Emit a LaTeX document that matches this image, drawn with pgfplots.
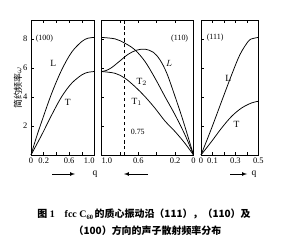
\documentclass[border=0pt]{standalone}
\usepackage{fontspec}
\setmainfont{Liberation Serif}
\newfontfamily\cjk{Noto Sans CJK SC}
\usepackage{pgfplots}
\pgfplotsset{compat=1.18}
\begin{document}
\begin{tikzpicture}
\path[use as bounding box] (0bp,0bp) rectangle (296bp,244bp);
\tikzset{lab/.style={font=\fontsize{9.5}{10}\selectfont}}
\pgfplotsset{
  panel/.style={
    scale only axis, anchor=south west, height=135bp,
    ymin=0, ymax=9.3, ytick={2,4,6,8}, ytick pos=left, xtick pos=both,
    tick align=inside, major tick length=2.5bp,
    axis line style={line width=0.8bp},
    tick style={line width=0.6bp, black},
    ticklabel style={font=\fontsize{8.5}{9}\selectfont},
    xticklabel style={yshift=1bp},
    /pgf/number format/assume math mode=true,
    clip=false,
    cycle list={{black,mark=none}},
    every axis plot post/.append style={line width=0.75bp, smooth, tension=0.55},
  },
}
% Panel 1 (100)
\begin{axis}[panel, at={(31bp,89bp)}, width=63.5bp,
  xmin=0, xmax=1, xtick={0,0.2,0.4,0.6,0.8,1.0},
  xticklabels={0,0.2,,0.6,,\makebox[0pt][r]{1.0}}]
\addplot coordinates {(0,0) (0.08,1.15) (0.168,2.3) (0.326,4.25) (0.483,5.86) (0.64,7.08) (0.80,7.82) (0.9,8.05) (1.0,8.1)};
\addplot coordinates {(0,0) (0.168,1.38) (0.326,2.76) (0.483,4.02) (0.64,4.94) (0.80,5.52) (0.9,5.7) (1.0,5.75)};
\node[anchor=west, font=\fontsize{8}{8}\selectfont] at (axis cs:0.02,8) {(100)};
\node[lab] at (axis cs:0.35,6.3) {L};
\node[lab] at (axis cs:0.58,3.65) {T};
\end{axis}
% Panel 2 (110)
\begin{axis}[panel, at={(101.5bp,89bp)}, width=92bp, x dir=reverse,
  xmin=0, xmax=1, xtick={0,0.2,0.4,0.6,0.8,1.0}, yticklabels={},
  xticklabels={0,0.2,,0.6,,\makebox[0pt][l]{1.0}}]
\addplot coordinates {(1,8.1) (0.853,8.0) (0.745,7.7) (0.636,7.24) (0.527,6.44) (0.418,5.29) (0.31,4.02) (0.2,2.76) (0.092,1.38) (0,0)};
\addplot coordinates {(1,5.75) (0.95,5.82) (0.89,6.02) (0.80,6.48) (0.71,6.94) (0.62,7.22) (0.527,7.29) (0.437,7.08) (0.364,6.55) (0.29,5.63) (0.2,4.02) (0.11,2.3) (0,0)};
\addplot coordinates {(1,5.75) (0.853,5.63) (0.745,5.29) (0.636,4.71) (0.527,4.02) (0.418,3.22) (0.31,2.34) (0.2,1.61) (0.092,0.8) (0,0)};
\addplot[black, dashed, line width=0.6bp, sharp plot] coordinates {(0.75,0) (0.75,9.3)};
\node[anchor=east, font=\fontsize{8}{8}\selectfont] at (axis cs:0.02,8.05) {(110)};
\node[lab] at (axis cs:0.266,6.3) {$L$};
\node[lab] at (axis cs:0.563,5.05) {T$_2$};
\node[lab] at (axis cs:0.617,3.67) {T$_1$};
\node[anchor=west, font=\fontsize{8}{8}\selectfont] at (axis cs:0.72,1.6) {0.75};
\end{axis}
% Panel 3 (111)
\begin{axis}[panel, at={(201bp,89bp)}, width=57.3bp,
  xmin=0, xmax=0.5, xtick={0,0.1,0.2,0.3,0.4,0.5}, yticklabels={},
  xticklabels={0,0.1,,0.3,,0.5}]
\addplot coordinates {(0,0) (0.093,1.86) (0.18,3.7) (0.268,5.54) (0.34,6.92) (0.413,7.84) (0.45,8.02) (0.5,8.1)};
\addplot coordinates {(0,0) (0.093,0.94) (0.18,1.86) (0.268,2.67) (0.355,3.24) (0.442,3.59) (0.5,3.7)};
\node[anchor=west, font=\fontsize{8}{8}\selectfont] at (axis cs:0.02,8.1) {(111)};
\node[lab] at (axis cs:0.238,5.3) {L};
\node[lab] at (axis cs:0.31,2.1) {T};
\end{axis}
% y label
\node[rotate=90, font=\cjk\fontsize{9}{9}\selectfont] at (18bp,156bp) {简约频率{\rmfamily$\omega$}};
% arrows and q
\draw[-latex, line width=0.7bp] (52bp,70bp) -- (75bp,70bp);
\node[font=\fontsize{9.5}{10}\selectfont] at (95bp,70bp) {q};
\draw[-latex, line width=0.7bp] (148bp,70bp) -- (124bp,70bp);
\draw[-latex, line width=0.7bp] (230bp,70bp) -- (247bp,70bp);
\node[font=\fontsize{9.5}{10}\selectfont] at (254bp,70bp) {q};
% caption
\node[font=\fontsize{10}{12}\selectfont\bfseries] at (144bp,30bp) {{\cjk\bfseries 图}~1\quad fcc C\raisebox{-0.35ex}{\fontsize{6.5}{7}\selectfont 60}\,{\cjk\bfseries 的质心振动沿（111），（110）及}};
\node[font=\fontsize{10}{12}\selectfont\bfseries] at (147.5bp,13bp) {{\cjk\bfseries （100）方向的声子散射频率分布}};
\end{tikzpicture}
\end{document}
